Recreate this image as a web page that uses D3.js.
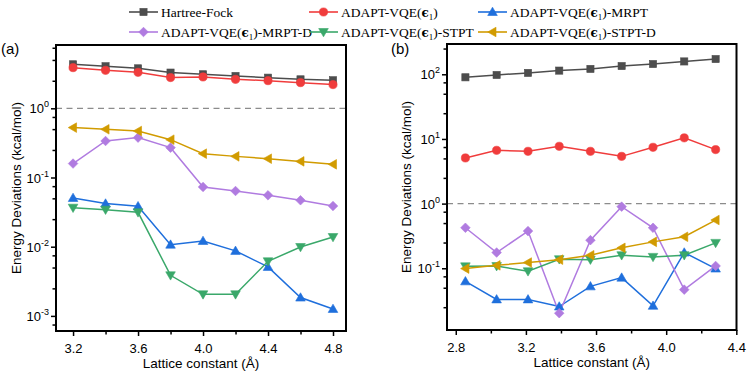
<!DOCTYPE html>
<html><head><meta charset="utf-8">
<script src="https://cdn.jsdelivr.net/npm/d3@7"></script>
<style>body{margin:0;background:#fff}svg{display:block}</style>
</head><body><svg id="c" width="747" height="374"></svg>
<script>
// ---------- data ----------
const xA = [3.2, 3.4, 3.6, 3.8, 4.0, 4.2, 4.4, 4.6, 4.8];
const xB = [2.855, 3.033, 3.212, 3.39, 3.568, 3.746, 3.925, 4.103, 4.282];
const seriesNames = ["Hartree-Fock", "ADAPT-VQE(ϵ1)", "ADAPT-VQE(ϵ1)-MRPT",
  "ADAPT-VQE(ϵ1)-MRPT-D", "ADAPT-VQE(ϵ1)-STPT", "ADAPT-VQE(ϵ1)-STPT-D"];
const colors = ["#4d4d4d", "#f03c3c", "#1f6fdc", "#b07be0", "#3aa86a", "#d19b00"];
const symbols = ["square", "circle", "triUp", "diamond", "triDown", "triLeft"];
// panel (a)
const aHF    = [4.32, 4.05, 3.78, 3.28, 3.10, 2.93, 2.77, 2.62, 2.54];
const aVQE   = [3.87, 3.54, 3.31, 2.78, 2.84, 2.62, 2.51, 2.35, 2.20];
const aMRPT  = [0.0506, 0.042, 0.0384, 0.0107, 0.0121, 0.0087, 0.0051, 0.00184, 0.00126];
const aMRPTD = [0.159, 0.337, 0.377, 0.27, 0.073, 0.0638, 0.0553, 0.0469, 0.0387];
const aSTPT  = [0.0366, 0.0343, 0.0314, 0.00386, 0.00205, 0.00205, 0.00615, 0.0099, 0.0138];
const aSTPTD = [0.526, 0.497, 0.47, 0.352, 0.221, 0.202, 0.187, 0.171, 0.155];
// panel (b)
const bHF    = [89.8, 97.5, 105, 114, 121, 134, 144, 158, 172];
const bVQE   = [5.08, 6.67, 6.44, 7.7, 6.44, 5.38, 7.43, 10.4, 6.84];
const bMRPT  = [0.0628, 0.033, 0.033, 0.0256, 0.0525, 0.0716, 0.0263, 0.175, 0.099];
const bMRPTD = [0.423, 0.175, 0.376, 0.0202, 0.272, 0.898, 0.423, 0.0467, 0.1086];
const bSTPT  = [0.107, 0.108, 0.0898, 0.138, 0.136, 0.159, 0.15, 0.159, 0.247];
const bSTPTD = [0.0989, 0.111, 0.1226, 0.136, 0.159, 0.207, 0.256, 0.307, 0.557];
const xTicksA = [3.2, 3.6, 4.0, 4.4, 4.8];
const xMinorA = [3.4, 3.8, 4.2, 4.6];
const xTicksB = [2.8, 3.2, 3.6, 4.0, 4.4];
const xMinorB = [3.0, 3.4, 3.8, 4.2];
const yExpA = [0, -1, -2, -3];
const yExpB = [2, 1, 0, -1];

const svg = d3.select("#c");
const sans = "'Liberation Sans', Arial, sans-serif";
const serif = "'Liberation Serif', 'Times New Roman', serif";

function marker(g, type, x, y, color) {
  const s = 4.3;
  let el;
  if (type === "square") el = g.append("rect").attr("x", x - 3.6).attr("y", y - 3.6).attr("width", 7.2).attr("height", 7.2);
  else if (type === "circle") el = g.append("circle").attr("cx", x).attr("cy", y).attr("r", 4.1);
  else {
    let pts;
    if (type === "triUp") pts = [[x, y - s - 0.5], [x + s + 0.5, y + s - 0.8], [x - s - 0.5, y + s - 0.8]];
    else if (type === "triDown") pts = [[x, y + s + 0.5], [x + s + 0.5, y - s + 0.8], [x - s - 0.5, y - s + 0.8]];
    else if (type === "triLeft") pts = [[x - s - 0.5, y], [x + s - 0.8, y - s - 0.5], [x + s - 0.8, y + s + 0.5]];
    else pts = [[x, y - s - 0.5], [x + s + 0.5, y], [x, y + s + 0.5], [x - s - 0.5, y]];
    el = g.append("polygon").attr("points", pts.map(p => p.join(",")).join(" "));
  }
  el.attr("fill", color).attr("stroke", color).attr("stroke-width", 0.6);
}

function panel(cfg) {
  const { x0, x1, yTop, yBot, xd, yd, data, xs, xt, xm, yExp, label, labelX } = cfg;
  const x = d3.scaleLinear().domain(xd).range([x0, x1]);
  const y = d3.scaleLog().domain(yd).range([yBot, yTop]);
  const g = svg.append("g");
  // dashed reference line at 1
  g.append("line").attr("x1", x0).attr("x2", x1).attr("y1", y(1)).attr("y2", y(1))
    .attr("stroke", "#8c8c8c").attr("stroke-width", 1.3).attr("stroke-dasharray", "6,4.5");
  // series
  const line = d3.line().x((d, i) => x(xs[i])).y(d => y(d));
  data.forEach((vals, k) => {
    g.append("path").attr("d", line(vals)).attr("fill", "none")
      .attr("stroke", colors[k]).attr("stroke-width", 1.5);
  });
  data.forEach((vals, k) => {
    vals.forEach((v, i) => marker(g, symbols[k], x(xs[i]), y(v), colors[k]));
  });
  // frame
  g.append("rect").attr("x", x0).attr("y", yTop).attr("width", x1 - x0).attr("height", yBot - yTop)
    .attr("fill", "none").attr("stroke", "#000").attr("stroke-width", 2);
  // x axis
  const xa = g.append("g").attr("transform", `translate(0,${yBot})`)
    .call(d3.axisBottom(x).tickValues(xt).tickFormat(d3.format(".1f")).tickSize(5).tickSizeOuter(0));
  xa.select(".domain").remove();
  xa.selectAll("line").attr("stroke-width", 1.5);
  xa.selectAll("text").attr("font-family", sans).attr("font-size", 13).attr("dy", "1.05em").attr("fill", "#000");
  const xmg = g.append("g").attr("transform", `translate(0,${yBot})`)
    .call(d3.axisBottom(x).tickValues(xm).tickFormat("").tickSize(3.5).tickSizeOuter(0));
  xmg.select(".domain").remove();
  xmg.selectAll("line").attr("stroke-width", 1.5);
  // y axis major
  const ya = g.append("g").attr("transform", `translate(${x0},0)`)
    .call(d3.axisLeft(y).tickValues(yExp.map(e => Math.pow(10, e))).tickFormat("").tickSize(5).tickSizeOuter(0));
  ya.select(".domain").remove();
  ya.selectAll("line").attr("stroke-width", 1.5);
  // minor ticks 2.5, 5, 7.5
  const minors = [];
  const eMin = Math.floor(Math.log10(yd[0])), eMax = Math.ceil(Math.log10(yd[1]));
  for (let e = eMin; e <= eMax; e++) [2.5, 5, 7.5].forEach(m => {
    const v = m * Math.pow(10, e);
    if (v > yd[0] && v < yd[1]) minors.push(v);
  });
  const ymg = g.append("g").attr("transform", `translate(${x0},0)`)
    .call(d3.axisLeft(y).tickValues(minors).tickFormat("").tickSize(3.5).tickSizeOuter(0));
  ymg.select(".domain").remove();
  ymg.selectAll("line").attr("stroke-width", 1.5);
  // y labels with superscripts
  yExp.forEach(e => {
    const t = g.append("text").attr("x", x0 - 7).attr("y", y(Math.pow(10, e)) + 5)
      .attr("text-anchor", "end").attr("font-family", sans).attr("font-size", 13).attr("fill", "#000");
    t.append("tspan").text("10");
    t.append("tspan").attr("font-size", 9).attr("dy", -6).text(String(e));
  });
  // axis titles
  g.append("text").attr("x", (x0 + x1) / 2).attr("y", yBot + 37).attr("text-anchor", "middle")
    .attr("font-family", sans).attr("font-size", 13.5).attr("fill", "#000").text("Lattice constant (Å)");
  g.append("text").attr("transform", `translate(${labelX},${(yTop + yBot) / 2}) rotate(-90)`)
    .attr("text-anchor", "middle").attr("font-family", sans).attr("font-size", 13.5).attr("fill", "#000")
    .text("Energy Deviations (kcal/mol)");
  g.append("text").attr("x", cfg.tagX).attr("y", 54).attr("font-family", sans).attr("font-size", 15)
    .attr("fill", "#000").text(label);
}

panel({ x0: 56, x1: 346, yTop: 45, yBot: 331, xd: [3.095, 4.88], yd: [6.05e-4, 8.22],
  data: [aHF, aVQE, aMRPT, aMRPTD, aSTPT, aSTPTD], xs: xA, xt: xTicksA, xm: xMinorA,
  yExp: yExpA, label: "(a)", tagX: 1, labelX: 21 });
panel({ x0: 447, x1: 736.5, yTop: 44, yBot: 330, xd: [2.75, 4.401], yd: [0.0111, 294],
  data: [bHF, bVQE, bMRPT, bMRPTD, bSTPT, bSTPTD], xs: xB, xt: xTicksB, xm: xMinorB,
  yExp: yExpB, label: "(b)", tagX: 391, labelX: 411 });

// ---------- legend ----------
const legPos = [[129, 12], [309, 12], [478, 12], [129, 32], [309, 32], [478, 32]];
seriesNames.forEach((name, k) => {
  const [lx, ly] = legPos[k];
  const g = svg.append("g");
  g.append("line").attr("x1", lx).attr("x2", lx + 29).attr("y1", ly).attr("y2", ly)
    .attr("stroke", colors[k]).attr("stroke-width", 1.6);
  marker(g, symbols[k], lx + 14.5, ly, colors[k]);
  const t = g.append("text").attr("x", lx + 32).attr("y", ly + 4.5)
    .attr("font-family", serif).attr("font-size", 13.5).attr("fill", "#000");
  const m = name.match(/^(.*)ϵ1(.*)$/);
  if (m) {
    t.append("tspan").text(m[1]);
    t.append("tspan").attr("font-weight", "bold").attr("font-family", "'DejaVu Serif', serif").attr("font-size", 12).text("ϵ");
    t.append("tspan").attr("font-size", 9).attr("dy", 3).text("1");
    t.append("tspan").attr("dy", -3).text(m[2]);
  } else t.text(name);
});
</script></body></html>
